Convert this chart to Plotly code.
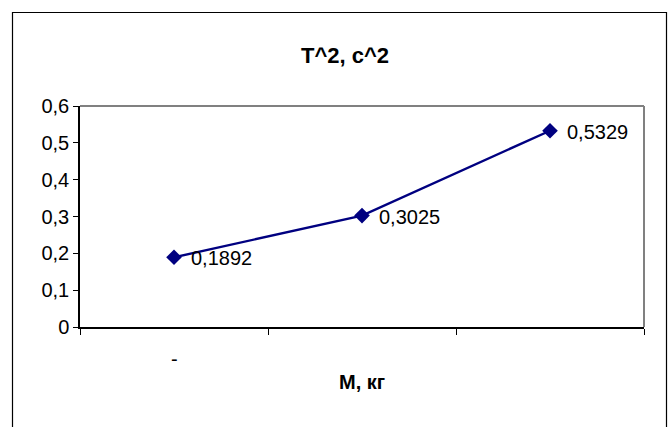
import plotly.graph_objects as go

categories = ["-", "", ""]
values = [0.1892, 0.3025, 0.5329]
labels = ["0,1892", "0,3025", "0,5329"]
y_ticks = [0, 0.1, 0.2, 0.3, 0.4, 0.5, 0.6]
title_text = "T^2, c^2"
x_title = "М, кг"

FONT = "Liberation Sans, Arial, sans-serif"
NAVY = "#000080"

# plot area in pixels: left 80, right 644, top 106, bottom 327
L, R, T, B = 80, 644, 106, 327
W, H = 670, 427
pw, ph = R - L, B - T

def px(x):
    return (x - L) / pw

def py(y):
    return (B - y) / ph

xs = list(range(len(categories)))

fig = go.Figure()
fig.add_trace(go.Scatter(
    x=xs, y=values, mode="lines+markers",
    line=dict(color=NAVY, width=2.4),
    marker=dict(symbol="diamond", size=12, color=NAVY),
    cliponaxis=False, hoverinfo="skip",
))

for xv, yv, t in zip(xs, values, labels):
    fig.add_annotation(x=xv, y=yv, xref="x", yref="y", text=t,
                       showarrow=False, xanchor="left", xshift=15, yshift=-1,
                       font=dict(family=FONT, size=20, color="black"))

fig.update_layout(
    width=W, height=H,
    margin=dict(l=L, r=W - R, t=T, b=H - B, pad=0),
    paper_bgcolor="white", plot_bgcolor="white",
    separators=", ",
    showlegend=False,
    font=dict(family=FONT, size=19, color="black"),
    xaxis=dict(
        range=[-0.5, len(categories) - 0.5],
        tickvals=[i - 0.5 for i in range(len(categories) + 1)],
        ticktext=[""] * (len(categories) + 1),
        ticks="outside", ticklen=6, tickcolor="black", tickwidth=1,
        showline=True, linecolor="black", linewidth=1.5,
        showgrid=False, zeroline=False, fixedrange=True,
    ),
    yaxis=dict(
        range=[0, 0.6],
        tickvals=y_ticks,
        ticks="outside", ticklen=5, tickcolor="black", tickwidth=1,
        showline=True, linecolor="black", linewidth=1.5,
        showgrid=False, zeroline=False, fixedrange=True,
        tickfont=dict(family=FONT, size=20),
    ),
)

# category labels
for i, c in enumerate(categories):
    if c:
        fig.add_annotation(x=i, y=py(372), xref="x", yref="paper",
                           text=c, showarrow=False,
                           font=dict(family=FONT, size=20))

# plot-area top & right gray borders
fig.add_shape(type="line", xref="paper", yref="paper", x0=0, x1=1, y0=1, y1=1,
              line=dict(color="#808080", width=2))
fig.add_shape(type="line", xref="paper", yref="paper", x0=1, x1=1, y0=0, y1=1,
              line=dict(color="#808080", width=2))

# outer chart border
fig.add_shape(type="rect", xref="paper", yref="paper",
              x0=px(12.5), x1=px(666.5), y0=py(440), y1=py(12.5),
              line=dict(color="black", width=1.2), fillcolor="rgba(0,0,0,0)")

# title
fig.add_annotation(x=px(345), y=py(41), xref="paper", yref="paper",
                   text="<b>" + title_text + "</b>", showarrow=False,
                   font=dict(family=FONT, size=22))
# axis title
fig.add_annotation(x=px(362), y=py(395), xref="paper", yref="paper",
                   text="<b>" + x_title + "</b>", showarrow=False,
                   font=dict(family=FONT, size=20))

fig.write_html("out.html")
